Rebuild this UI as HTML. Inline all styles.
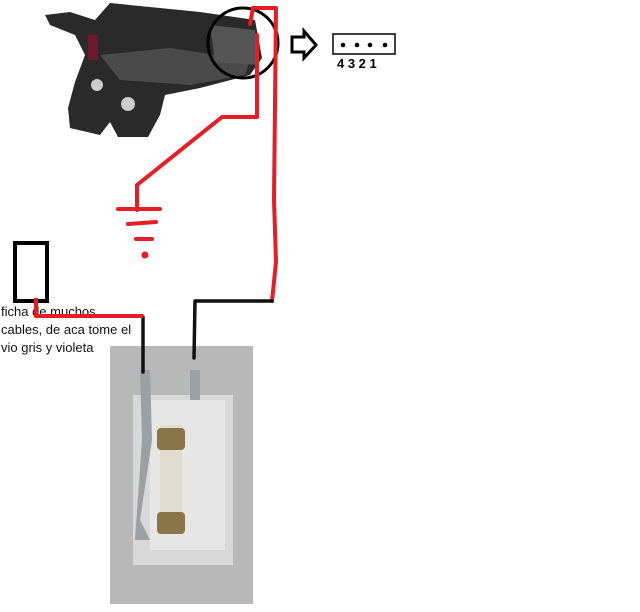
<!DOCTYPE html>
<html><head><style>html,body{margin:0;padding:0;background:#fff;width:640px;height:612px;overflow:hidden}
.t{position:absolute;left:1px;top:303px;font-family:"Liberation Sans",sans-serif;font-size:13px;line-height:18px;color:#111;white-space:nowrap}</style></head>
<body>
<svg width="640" height="612" style="position:absolute;left:0;top:0">
<polygon points="45,15 70,12 95,20 110,3 200,12 255,20 262,58 250,75 200,88 165,95 160,115 148,137 118,137 110,122 100,135 70,128 68,108 75,82 85,55 75,35 50,25" fill="#2a2a2a"/>
<polygon points="100,55 170,48 250,60 245,75 190,85 120,80" fill="#4a4a4a"/>
<polygon points="210,25 255,30 258,65 215,62" fill="#555"/>
<rect x="88" y="35" width="10" height="25" fill="#6a1a2a"/>
<circle cx="97" cy="85" r="6" fill="#ccc"/><circle cx="128" cy="104" r="7" fill="#ccc"/>
<ellipse cx="243" cy="43" rx="35" ry="35" fill="none" stroke="#000" stroke-width="3"/>
<polygon points="292,37 304,37 304,31 316,45 304,58 304,52 292,52" fill="#fff" stroke="#000" stroke-width="3"/>
<rect x="333" y="34" width="62" height="20" fill="#fff" stroke="#000" stroke-width="1.5"/>
<circle cx="343" cy="45" r="2.3"/><circle cx="357" cy="45" r="2.3"/><circle cx="370" cy="45" r="2.3"/><circle cx="385" cy="45" r="2.3"/>
<text x="337" y="68" font-family="Liberation Sans,sans-serif" font-weight="bold" font-size="13">4 3 2 1</text>
<rect x="110" y="346" width="143" height="258" fill="#b8b8b8"/>
<rect x="133" y="395" width="100" height="170" fill="#d8d8d8"/>
<rect x="150" y="400" width="75" height="150" fill="#e6e6e6"/>
<rect x="160" y="425" width="22" height="100" fill="#e0dcd0"/>
<rect x="157" y="428" width="28" height="22" rx="4" fill="#8a7548"/>
<rect x="157" y="512" width="28" height="22" rx="4" fill="#8a7548"/>
<polygon points="140,370 150,370 152,440 140,520 150,540 135,540 142,440" fill="#9aa0a4"/>
<polygon points="190,370 200,370 200,400 190,400" fill="#9aa0a4"/>
<g fill="none" stroke-width="4" stroke-linecap="round" stroke-linejoin="round">
<polyline points="253,8 250,24" stroke="#e81c24"/>
<polyline points="253,8 276,8 274,200 276,262 272,301" stroke="#e81c24"/>
<polyline points="257,35 257,117 222,117 137,185 137,210" stroke="#e81c24"/>
<line x1="118" y1="209" x2="160" y2="209" stroke="#e81c24"/>
<line x1="128" y1="224" x2="156" y2="222" stroke="#e81c24"/>
<line x1="136" y1="239" x2="152" y2="239" stroke="#e81c24"/>
<circle cx="145" cy="255" r="1.5" fill="#e81c24" stroke="#e81c24"/>
<polyline points="143,317 143,372" stroke="#111" stroke-width="3.5"/>
<polyline points="272,301 195,301 194,358" stroke="#111" stroke-width="3.5"/>
</g>
<rect x="15" y="243" width="32" height="58" fill="none" stroke="#000" stroke-width="4"/>
</svg>
<div class="t">ficha de muchos<br>cables, de aca tome el<br>vio gris y violeta</div>
<svg width="640" height="612" style="position:absolute;left:0;top:0">
<polyline points="36,298 36,316 143,316" fill="none" stroke="#e81c24" stroke-width="4" stroke-linejoin="round"/>
</svg>
</body></html>
